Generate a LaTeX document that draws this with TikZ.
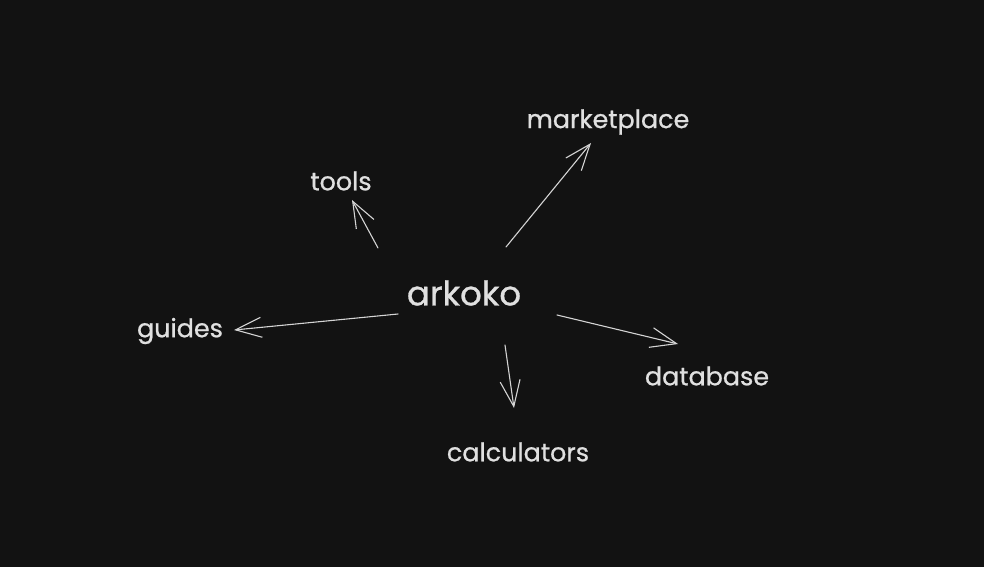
\documentclass[tikz,border=0pt]{standalone}
\usepackage{fontspec}
\newfontfamily\hand{Poppins}[FakeBold=0.8]
\usetikzlibrary{arrows.meta}
\definecolor{bg}{HTML}{121212}
\definecolor{ink}{HTML}{E0E0E0}
\definecolor{wire}{HTML}{D4D4D4}
\begin{document}
\begin{tikzpicture}[x=1pt,y=-1pt,
  lbl/.style={text=ink,inner sep=0pt,font=\hand\fontsize{25.4}{25.4}\selectfont},
  hub/.style={text=ink,inner sep=0pt,font=\hand\fontsize{34}{34}\selectfont},
  link/.style={draw=wire,line width=1.1pt,line cap=round,
    -{Straight Barb[length=26pt,width=20pt,line width=1.1pt]}}]
\fill[bg] (0,0) rectangle (984,567);
\useasboundingbox (0,0) rectangle (984,567);
\node[hub] (arkoko) at (464,293) {arkoko};
\node[lbl] (tools) at (341,181) {tools};
\node[lbl] (market) at (608,122) {marketplace};
\node[lbl] (guides) at (180,331) {guides};
\node[lbl] (database) at (707,376) {database};
\node[lbl] (calc) at (518,452) {calculators};
\draw[link] ([shift={(-86,-45)}]arkoko.center) -- ([shift={(11,19)}]tools.center);
\draw[link] ([shift={(42,-46)}]arkoko.center) -- ([shift={(-17,21)}]market.center);
\draw[link] ([shift={(-66,21)}]arkoko.center) -- ([shift={(54,-1)}]guides.center);
\draw[link] ([shift={(93,22)}]arkoko.center) -- ([shift={(-29,-32)}]database.center);
\draw[link] ([shift={(41,52)}]arkoko.center) -- ([shift={(-4,-44)}]calc.center);
\end{tikzpicture}
\end{document}
